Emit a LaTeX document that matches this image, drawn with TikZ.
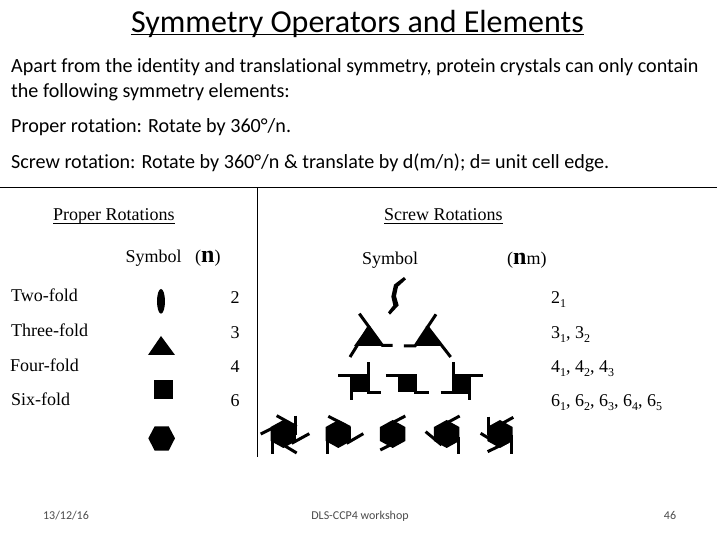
\documentclass[tikz,border=0pt]{standalone}
\usepackage{fontspec}
\setmainfont{Carlito}[Ligatures=NoCommon]
\newfontfamily\tms{Liberation Serif}
\newcommand{\bigsz}{\bfseries\fontsize{24}{24}\selectfont}
\newcommand{\sbs}[1]{\raisebox{-4pt}{\fontsize{12}{12}\selectfont #1}}
\tikzset{
 body/.style={anchor=base west,inner sep=0pt,font=\fontsize{20.1}{24}\selectfont},
 foot/.style={anchor=base,inner sep=0pt,text=black!70,font=\fontsize{12}{14}\selectfont},
 tm/.style={anchor=base west,inner sep=0pt,font=\tms\fontsize{18}{21}\selectfont},
 tmc/.style={anchor=base,inner sep=0pt,font=\tms\fontsize{18}{21}\selectfont},
 rule/.style={line width=1pt,black},
 uline/.style={line width=1.4pt,black},
 solid shape/.style={fill=black,draw=none},
 arm/.style={line width=3pt,black,line cap=butt},
 zoomA/.style={shift={(330,270)},x=0.3333pt,y=-0.3333pt},
 zoomB/.style={shift={(250,395)},x=0.3333pt,y=-0.3333pt},
 zoomC/.style={shift={(130,230)},x=0.3333pt,y=-0.3333pt},
}
\begin{document}
\begin{tikzpicture}[x=1pt,y=-1pt]
\useasboundingbox (0,0) rectangle (720,540);
\fill[white] (0,0) rectangle (720,540);
\node[anchor=base,inner sep=0pt,font=\fontsize{32}{36}\selectfont] (title) at (357.5,33) {Symmetry Operators and Elements};
\draw[uline] ([yshift=-1.8pt]title.base west) -- ([yshift=-1.8pt]title.base east);
\node[body] (p1) at (11,73) {Apart from the identity and translational symmetry, protein crystals can only contain};
\node[body] (p2) at (11,98) {the following symmetry elements:};
\node[body] (p3) at (11,133) {Proper rotation: Rotate by 360°/n.};
\node[body] (p4) at (11,169) {Screw rotation: Rotate by 360°/n \& translate by d(m/n); d= unit cell edge.};
\draw[rule] (0,187.5) -- (717,187.5);
\draw[rule] (257.5,187.5) -- (257.5,457);
\node[tm] (h1) at (53,221) {Proper Rotations};
\draw[uline] ([yshift=-2.5pt]h1.base west) -- ([yshift=-2.5pt]h1.base east);
\node[tm] (h2) at (384,221) {Screw Rotations};
\draw[uline] ([yshift=-2.5pt]h2.base west) -- ([yshift=-2.5pt]h2.base east);
\node[tm] (s1) at (125.5,262.5) {Symbol};
\node[tm] (n1) at (195,262.5) {({\bigsz n})};
\node[tm] (s2) at (362,264) {Symbol};
\node[tm] (n2) at (507,264) {({\bigsz n}m)};
\node[tm] (r1) at (11,301.5) {Two-fold};
\node[tm] (r2) at (11,336) {Three-fold};
\node[tm] (r3) at (10,371) {Four-fold};
\node[tm] (r4) at (11,405) {Six-fold};
\node[tmc] (c1) at (235,303) {2};
\node[tmc] (c2) at (235,338) {3};
\node[tmc] (c3) at (235,372.5) {4};
\node[tmc] (c4) at (235,406.5) {6};
\node[tm] (d1) at (551,303) {2\sbs{1}};
\node[tm] (d2) at (551,338) {3\sbs{1}, 3\sbs{2}};
\node[tm] (d3) at (551,372.5) {4\sbs{1}, 4\sbs{2}, 4\sbs{3}};
\node[tm] (d4) at (551,406.5) {6\sbs{1}, 6\sbs{2}, 6\sbs{3}, 6\sbs{4}, 6\sbs{5}};
\node[foot] (f1) at (66,519) {13/12/16};
\node[foot] (f2) at (360,519) {DLS-CCP4 workshop};
\node[foot] (f3) at (670,519) {46};
% proper symbols
\begin{scope}[zoomC]
\fill[solid shape] (93,214) ellipse (12 and 37);
\fill[solid shape] (93,318) -- (135,375) -- (54,375) -- cycle;
\fill[solid shape] (72,450) rectangle (129,507);
\fill[solid shape] (55,625) -- (74,589) -- (116,589) -- (135,625) -- (116,662) -- (74,662) -- cycle;
\end{scope}
% screw symbols 2,3,4
\begin{scope}[zoomA]
\fill[solid shape] (222,21) -- (228,28) -- (204,50) -- (198,78) -- (206,106) -- (180,134) -- (174,127) -- (190,106) -- (184,80) -- (192,44) -- cycle;
\fill[solid shape] (115,168) -- (160,228) -- (72,228) -- cycle;
\draw[arm] (88,131) -- (157,226) -- (188,226);
\draw[arm] (60,261) -- (118,168);
\fill[solid shape] (295,168) -- (338,228) -- (255,228) -- cycle;
\draw[arm] (318,133) -- (255,228) -- (222,228);
\draw[arm] (290,168) -- (362,261);
\fill[solid shape] (65,318) rectangle (115,367);
\draw[arm] (24,316) -- (115,316);
\draw[arm] (115,277) -- (115,367) -- (153,367);
\draw[arm] (65,316) -- (65,389);
\fill[solid shape] (205,318) rectangle (258,367);
\draw[arm] (168,316) -- (258,316) -- (258,367) -- (297,367);
\fill[solid shape] (375,318) rectangle (422,367);
\draw[arm] (370,277) -- (370,367);
\draw[arm] (370,316) -- (459,316);
\draw[arm] (420,316) -- (420,389);
\draw[arm] (332,367) -- (420,367);
\end{scope}
% screw symbols 6
\begin{scope}[zoomB]
\foreach \c in {100,265,428,590,750}{
  \fill[solid shape] (\c,75) -- (\c+38,96) -- (\c+38,138) -- (\c,159) -- (\c-38,138) -- (\c-38,96) -- cycle;
}
\draw[arm] (32,117) -- (90,88);
\draw[arm] (80,62) -- (140,95);
\draw[arm] (136,62) -- (136,120);
\draw[arm] (178,116) -- (125,145);
\draw[arm] (140,174) -- (75,135);
\draw[arm] (67,176) -- (67,115);
\draw[arm] (235,64) -- (300,97);
\draw[arm] (340,116) -- (290,145);
\draw[arm] (232,176) -- (232,120);
\draw[arm] (466,63) -- (405,95);
\draw[arm] (391,165) -- (450,135);
\draw[arm] (629,63) -- (570,95);
\draw[arm] (527,110) -- (575,150);
\draw[arm] (626,176) -- (626,125);
\draw[arm] (715,65) -- (715,120);
\draw[arm] (790,67) -- (730,100);
\draw[arm] (692,115) -- (750,150);
\draw[arm] (786,176) -- (786,120);
\draw[arm] (713,170) -- (775,140);
\end{scope}
\end{tikzpicture}
\end{document}
